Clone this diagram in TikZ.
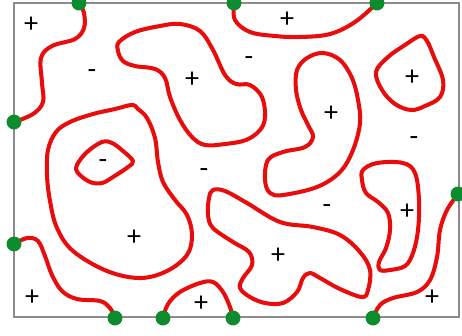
\documentclass[tikz,border=0pt]{standalone}
\usepackage{fontspec}
\setmainfont{Carlito}
\definecolor{curvered}{RGB}{232,12,12}
\definecolor{dotgreen}{RGB}{12,140,45}
\definecolor{framegray}{RGB}{140,140,140}
\tikzset{
  curve/.style={draw=curvered, line width=2.3pt, line cap=round, line join=round},
  closedcurve/.style={curve, smooth cycle, tension=0.6},
  opencurve/.style={curve, smooth, tension=0.6},
  dot/.style={circle, fill=dotgreen, inner sep=0pt, minimum size=8.5pt},
  sign/.style={font=\fontsize{16}{16}\selectfont, inner sep=0pt},
}
\begin{document}
\begin{tikzpicture}[x=0.02cm,y=-0.02cm]
\useasboundingbox (0,0) rectangle (462,335);
\draw[framegray, line width=0.7pt] (14,3) rectangle (459,317);

% boundary points
\coordinate (t1) at (79,3);
\coordinate (t2) at (234,3);
\coordinate (t3) at (377,3);
\coordinate (l1) at (14,122);
\coordinate (l2) at (14,244);
\coordinate (r1) at (458,194);
\coordinate (b1) at (115,318);
\coordinate (b2) at (163,318);
\coordinate (b3) at (233,318);
\coordinate (b4) at (373,318);

% open curves
\draw[opencurve] plot coordinates {(t1) (84,13) (84,28) (75,39) (52,46) (41,58) (42,83) (43,102) (33,114) (l1)};
\draw[opencurve] plot coordinates {(t2) (235,20) (250,32) (275,36) (300,37) (330,34) (355,22) (t3)};
\draw[opencurve] plot coordinates {(l2) (27,238) (38,241) (45,256) (52,275) (62,291) (77,299) (100,301) (110,308) (b1)};
\draw[opencurve] plot coordinates {(b2) (168,304) (180,292) (200,283) (213,282) (223,292) (230,307) (b3)};
\draw[opencurve] plot coordinates {(b4) (380,305) (393,298) (417,292) (430,280) (437,257) (440,230) (447,210) (r1)};

% closed curves
\draw[closedcurve] plot coordinates {(119,42) (135,32) (160,26) (180,24) (200,31) (213,50) (225,75) (236,84) (250,85) (262,97) (265,117) (260,130) (246,140) (225,144) (205,145) (192,137) (180,120) (170,97) (165,78) (155,69) (135,66) (123,61) (118,51)};
\draw[closedcurve] plot coordinates {(323,53) (340,60) (352,78) (358,100) (360,123) (353,150) (340,172) (317,187) (283,195) (270,193) (265,180) (268,160) (283,152) (305,147) (313,137) (308,125) (301,110) (296,90) (297,70) (307,58)};
\draw[closedcurve] plot coordinates {(420,36) (427,41) (434,57) (443,80) (440,97) (425,106) (411,110) (395,104) (382,90) (376,72) (388,57) (405,45)};
\draw[closedcurve] plot coordinates {(132,105) (138,109) (147,118) (155,138) (158,162) (163,182) (175,200) (187,215) (192,235) (187,255) (167,271) (140,278) (107,271) (73,251) (57,228) (50,201) (47,175) (48,150) (56,132) (70,122) (93,114) (115,109)};
\draw[closedcurve] plot coordinates {(77,165) (87,152) (102,142) (112,143) (123,151) (133,161) (128,167) (113,177) (102,183) (90,182) (78,173)};
\draw[closedcurve] plot coordinates {(213,190) (225,191) (247,203) (280,222) (313,227) (340,235) (360,252) (370,270) (368,290) (362,297) (340,289) (320,278) (310,273) (303,278) (297,292) (283,303) (265,303) (250,297) (240,288) (243,278) (252,265) (249,252) (233,242) (213,228) (208,215) (209,198)};
\draw[closedcurve] plot coordinates {(363,170) (377,163) (403,163) (415,173) (419,200) (418,230) (413,253) (405,266) (390,270) (380,270) (379,262) (386,248) (390,230) (388,213) (378,202) (366,193) (362,180)};

% dots
\foreach \p in {t1,t2,t3,l1,l2,r1,b1,b2,b3,b4} \node[dot] (d\p) at (\p) {};

% signs
\node[sign] (s1) at (31,25) {+};
\node[sign] (s2) at (92,74) {-};
\node[sign] (s3) at (192,80) {+};
\node[sign] (s4) at (249,61) {-};
\node[sign] (s5) at (287,20) {+};
\node[sign] (s6) at (331,114) {+};
\node[sign] (s7) at (412,78) {+};
\node[sign] (s8) at (414,141) {-};
\node[sign] (s9) at (103,164) {-};
\node[sign] (s10) at (204,173) {-};
\node[sign] (s11) at (327,209) {-};
\node[sign] (s12) at (407,212) {+};
\node[sign] (s13) at (134,238) {+};
\node[sign] (s14) at (278,256) {+};
\node[sign] (s15) at (32,298) {+};
\node[sign] (s16) at (201,304) {+};
\node[sign] (s17) at (432,298) {+};
\end{tikzpicture}
\end{document}
